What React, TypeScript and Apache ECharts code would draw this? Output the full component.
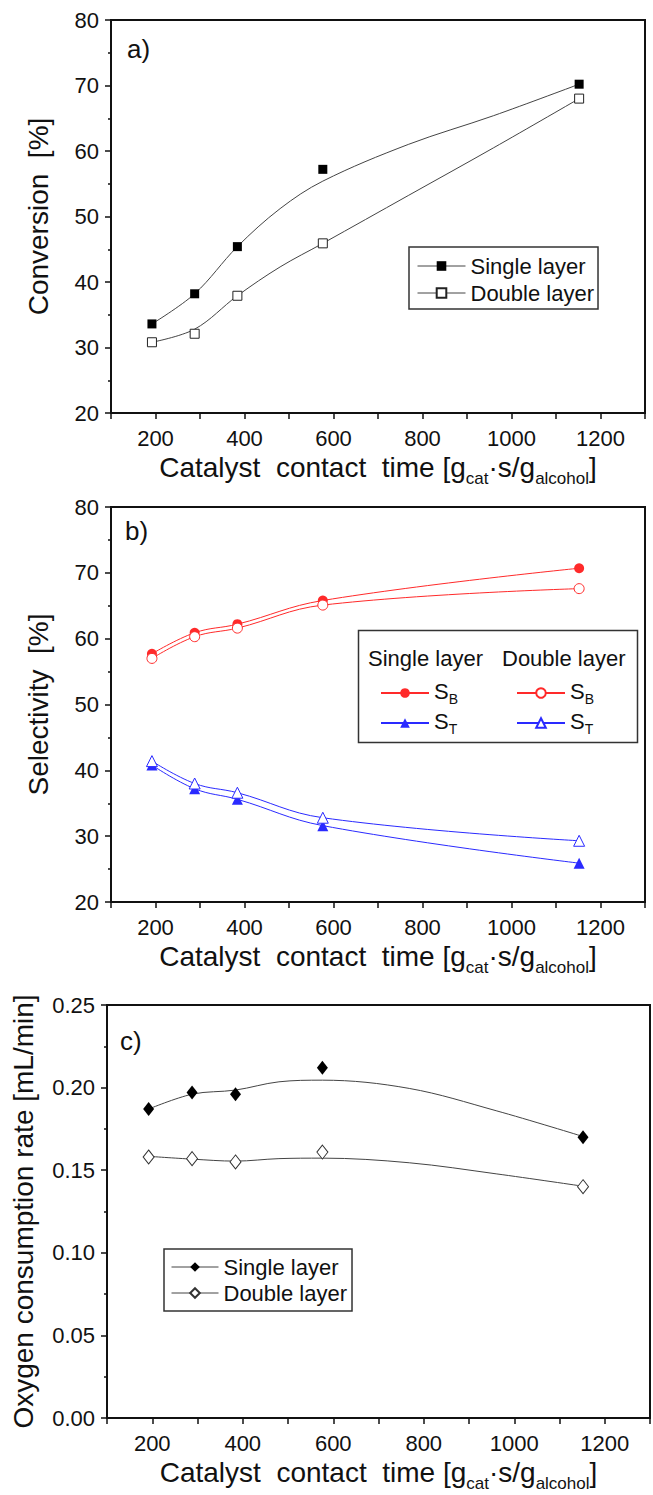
import React, { useEffect, useRef } from 'react';
import * as echarts from 'echarts';

// ---------- data ----------
const contactTime = [192, 288, 384, 576, 1152];
const xTicks = [200, 400, 600, 800, 1000, 1200];

const fitTime = [192, 288, 384, 480, 576, 768, 960, 1152];

// panel a) conversion [%]
const convSingle = [33.6, 38.2, 45.4, 57.2, 70.2];
const convDouble = [30.8, 32.1, 37.9, 45.9, 68.0];
const convSingleFit = [33.6, 38.2, 45.4, 51.2, 55.4, 61.0, 65.4, 70.2];
const convDoubleFit = [30.8, 32.8, 37.9, 42.3, 45.9, 53.2, 60.5, 68.0];

// panel b) selectivity [%]
const sbSingle = [57.7, 60.9, 62.2, 65.8, 70.7];
const sbDouble = [57.0, 60.3, 61.6, 65.1, 67.6];
const stSingle = [40.8, 37.2, 35.6, 31.6, 25.9];
const stDouble = [41.4, 38.0, 36.6, 32.8, 29.3];

// panel c) oxygen consumption rate [mL/min]
const o2Single = [0.187, 0.197, 0.196, 0.212, 0.17];
const o2Double = [0.158, 0.157, 0.155, 0.161, 0.14];
const o2SingleFit = [0.187, 0.196, 0.1985, 0.2035, 0.2045, 0.1995, 0.186, 0.1704];
const o2DoubleFit = [0.1584, 0.1567, 0.1555, 0.157, 0.1573, 0.1545, 0.1478, 0.1403];

const F = 'Liberation Sans, Arial, sans-serif';
const INK = '#111';
const LINE = '#444';
const RED = '#ff2a2a';
const BLUE = '#2a2aff';

const zip = (ys: number[]) => contactTime.map((x, i) => [x, ys[i]]);
const zipFit = (ys: number[]) => fitTime.map((x, i) => [x, ys[i]]);

const xName = '{t|Catalyst  contact  time [g}{s|cat}{t|·s/g}{s|alcohol}{t|]}';

function makeX(gridIndex: number) {
  return {
    gridIndex,
    type: 'value',
    min: 100,
    max: 1300,
    interval: 100,
    axisLine: { show: true, onZero: false, lineStyle: { color: INK, width: 2 } },
    axisTick: { show: true, length: 6, lineStyle: { color: INK, width: 1.5 } },
    axisLabel: {
      fontSize: 22,
      fontFamily: F,
      color: INK,
      margin: 14,
      formatter: (v: number) => (xTicks.indexOf(v) >= 0 ? String(v) : ''),
    },
    splitLine: { show: false },
    name: xName,
    nameLocation: 'middle',
    nameGap: 40,
    nameTextStyle: {
      rich: {
        t: { fontSize: 28, fontFamily: F, color: INK, verticalAlign: 'bottom', padding: [0, 0, 6, 0] },
        s: { fontSize: 17, fontFamily: F, color: INK, verticalAlign: 'bottom' },
      },
    },
  };
}

function makeY(gridIndex: number, min: number, max: number, interval: number, name: string, gap: number, dec: number) {
  return {
    gridIndex,
    type: 'value',
    min,
    max,
    interval,
    axisLine: { show: true, onZero: false, lineStyle: { color: INK, width: 2 } },
    axisTick: { show: true, length: 6, lineStyle: { color: INK, width: 1.5 } },
    minorTick: { show: true, splitNumber: 2, length: 3, lineStyle: { color: INK, width: 1.5 } },
    axisLabel: {
      fontSize: 22,
      fontFamily: F,
      color: INK,
      margin: 12,
      formatter: (v: number) => v.toFixed(dec),
    },
    splitLine: { show: false },
    minorSplitLine: { show: false },
    name,
    nameLocation: 'middle',
    nameGap: gap,
    nameTextStyle: { fontSize: 28, fontFamily: F, color: INK },
  };
}

export default function App() {
  const ref = useRef<HTMLDivElement>(null);

  useEffect(() => {
    document.body.style.margin = '0';
    if (!ref.current) return;
    const chart = echarts.init(ref.current, undefined, { renderer: 'svg' });

    const gridBase = { show: true, borderColor: INK, borderWidth: 2, backgroundColor: 'transparent', containLabel: false };

    const legendLineOverride = (color: string) => ({ opacity: 1, width: 1, color });

    const richLegend = {
      m: { fontSize: 22, fontFamily: F, color: INK, verticalAlign: 'bottom', padding: [0, 0, 4, 0] },
      u: { fontSize: 14, fontFamily: F, color: INK, verticalAlign: 'bottom' },
    };
    const sLabel = (n: string) => (n.indexOf('SB') === 0 ? '{m|S}{u|B}' : '{m|S}{u|T}');

    const fitLine = (xi: number, ys: number[]) => ({
      type: 'line',
      xAxisIndex: xi,
      yAxisIndex: xi,
      data: zipFit(ys),
      smooth: 0.35,
      symbol: 'none',
      lineStyle: { color: LINE, width: 1 },
      z: 2,
      silent: true,
    });

    const option: any = {
      animation: false,
      backgroundColor: '#fff',
      grid: [
        { ...gridBase, left: 111, top: 20, width: 534, height: 393 },
        { ...gridBase, left: 111, top: 507, width: 534, height: 395 },
        { ...gridBase, left: 107, top: 1005, width: 544, height: 413 },
      ],
      xAxis: [makeX(0), makeX(1), makeX(2)],
      yAxis: [
        makeY(0, 20, 80, 10, 'Conversion  [%]', 59, 0),
        makeY(1, 20, 80, 10, 'Selectivity  [%]', 59, 0),
        makeY(2, 0, 0.25, 0.05, 'Oxygen consumption rate [mL/min]', 70, 2),
      ],
      legend: [
        {
          id: 'legA',
          orient: 'vertical',
          left: 409,
          top: 247,
          padding: [8, 4, 5, 8],
          itemWidth: 48,
          itemHeight: 12,
          itemGap: 5,
          borderColor: '#333',
          borderWidth: 1.5,
          backgroundColor: '#fff',
          selectedMode: false,
          textStyle: { fontSize: 22, lineHeight: 22, color: INK, fontFamily: F },
          formatter: (n: string) => n.split('#')[0],
          data: [
            { name: 'Single layer#a', lineStyle: legendLineOverride(LINE) },
            { name: 'Double layer#a', lineStyle: legendLineOverride(LINE) },
          ],
        },
        {
          id: 'legB1',
          orient: 'vertical',
          left: 380,
          top: 680,
          padding: 0,
          itemWidth: 48,
          itemHeight: 12,
          itemGap: 4,
          selectedMode: false,
          textStyle: { fontSize: 22, color: INK, fontFamily: F, rich: richLegend },
          formatter: sLabel,
          data: ['SB#s', 'ST#s'],
        },
        {
          id: 'legB2',
          orient: 'vertical',
          left: 516,
          top: 680,
          padding: 0,
          itemWidth: 48,
          itemHeight: 12,
          itemGap: 4,
          selectedMode: false,
          textStyle: { fontSize: 22, color: INK, fontFamily: F, rich: richLegend },
          formatter: sLabel,
          data: ['SB#d', 'ST#d'],
        },
        {
          id: 'legC',
          orient: 'vertical',
          left: 164,
          top: 1249,
          padding: [7, 5, 7, 7],
          itemWidth: 47,
          itemHeight: 12,
          itemGap: 4,
          borderColor: '#333',
          borderWidth: 1.5,
          backgroundColor: '#fff',
          selectedMode: false,
          textStyle: { fontSize: 22, lineHeight: 22, color: INK, fontFamily: F },
          formatter: (n: string) => n.split('#')[0],
          data: [
            { name: 'Single layer#c', lineStyle: legendLineOverride(LINE) },
            { name: 'Double layer#c', lineStyle: legendLineOverride(LINE) },
          ],
        },
      ],
      graphic: [
        { type: 'text', x: 127, y: 36, style: { text: 'a)', fontSize: 26, fontFamily: F, fill: INK, verticalAlign: 'top' } },
        { type: 'text', x: 125, y: 518, style: { text: 'b)', fontSize: 26, fontFamily: F, fill: INK, verticalAlign: 'top' } },
        { type: 'text', x: 120, y: 1028, style: { text: 'c)', fontSize: 26, fontFamily: F, fill: INK, verticalAlign: 'top' } },
        {
          type: 'rect',
          shape: { x: 358.5, y: 630.5, width: 279, height: 112 },
          style: { fill: '#fff', stroke: '#333', lineWidth: 1.5 },
          z: 1,
        },
        { type: 'text', x: 368, y: 658, z: 2, style: { text: 'Single layer', fontSize: 22, fontFamily: F, fill: INK, verticalAlign: 'middle' } },
        { type: 'text', x: 502, y: 658, z: 2, style: { text: 'Double layer', fontSize: 22, fontFamily: F, fill: INK, verticalAlign: 'middle' } },
      ],
      series: [
        // panel a fits
        fitLine(0, convSingleFit),
        fitLine(0, convDoubleFit),
        // panel a points
        {
          name: 'Single layer#a', type: 'line', xAxisIndex: 0, yAxisIndex: 0, data: zip(convSingle),
          symbol: 'rect', symbolSize: 9, itemStyle: { color: '#000' }, lineStyle: { color: LINE, width: 1, opacity: 0 }, z: 3,
        },
        {
          name: 'Double layer#a', type: 'line', xAxisIndex: 0, yAxisIndex: 0, data: zip(convDouble),
          symbol: 'rect', symbolSize: 9, itemStyle: { color: '#fff', borderColor: '#222', borderWidth: 1 }, lineStyle: { color: LINE, width: 1, opacity: 0 }, z: 3,
        },
        // panel b
        {
          name: 'SB#s', type: 'line', xAxisIndex: 1, yAxisIndex: 1, data: zip(sbSingle), smooth: 0.4,
          symbol: 'circle', symbolSize: 10, itemStyle: { color: RED }, lineStyle: { color: RED, width: 1 }, z: 3,
        },
        {
          name: 'SB#d', type: 'line', xAxisIndex: 1, yAxisIndex: 1, data: zip(sbDouble), smooth: 0.4,
          symbol: 'circle', symbolSize: 10, itemStyle: { color: '#fff', borderColor: RED, borderWidth: 1 }, lineStyle: { color: RED, width: 1 }, z: 3,
        },
        {
          name: 'ST#s', type: 'line', xAxisIndex: 1, yAxisIndex: 1, data: zip(stSingle), smooth: 0.4,
          symbol: 'triangle', symbolSize: 11, itemStyle: { color: BLUE }, lineStyle: { color: BLUE, width: 1 }, z: 3,
        },
        {
          name: 'ST#d', type: 'line', xAxisIndex: 1, yAxisIndex: 1, data: zip(stDouble), smooth: 0.4,
          symbol: 'triangle', symbolSize: 11, itemStyle: { color: '#fff', borderColor: BLUE, borderWidth: 1 }, lineStyle: { color: BLUE, width: 1 }, z: 3,
        },
        // panel c fits
        fitLine(2, o2SingleFit),
        fitLine(2, o2DoubleFit),
        // panel c points
        {
          name: 'Single layer#c', type: 'line', xAxisIndex: 2, yAxisIndex: 2, data: zip(o2Single),
          symbol: 'diamond', symbolSize: [11, 14], itemStyle: { color: '#000' }, lineStyle: { color: LINE, width: 1, opacity: 0 }, z: 3,
        },
        {
          name: 'Double layer#c', type: 'line', xAxisIndex: 2, yAxisIndex: 2, data: zip(o2Double),
          symbol: 'diamond', symbolSize: [11, 14], itemStyle: { color: '#fff', borderColor: '#333', borderWidth: 1 }, lineStyle: { color: LINE, width: 1, opacity: 0 }, z: 3,
        },
      ],
    };

    chart.setOption(option);
    return () => chart.dispose();
  }, []);

  return <div ref={ref} style={{ width: 653, height: 1495 }} />;
}
